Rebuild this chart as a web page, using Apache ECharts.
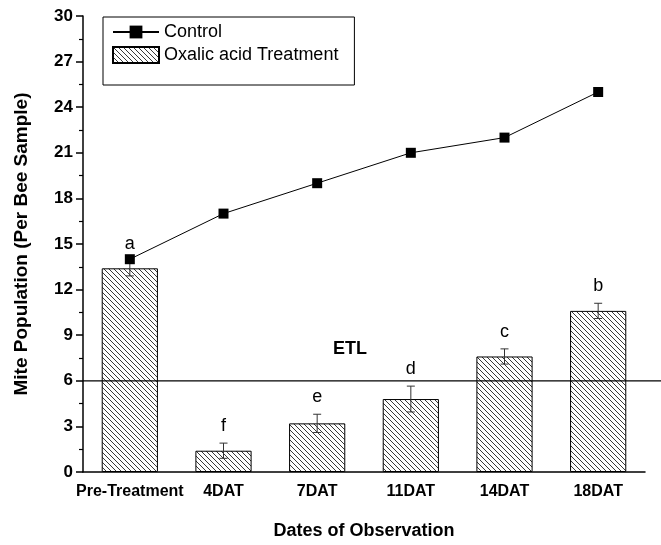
<!DOCTYPE html>
<html><head><meta charset="utf-8">
<script src="https://cdn.jsdelivr.net/npm/echarts@6/dist/echarts.min.js"></script>
<style>html,body{margin:0;padding:0;background:#fff}#c{width:661px;height:545px}</style>
</head><body><div id="c"></div>
<script>
const categories = ['Pre-Treatment','4DAT','7DAT','11DAT','14DAT','18DAT'];
const controlValues = [14, 17, 19, 21, 22, 25];
const treatmentValues = [13.4, 1.4, 3.2, 4.8, 7.6, 10.6];
const treatmentErrors = [0.5, 0.5, 0.6, 0.85, 0.5, 0.5];
const letters = ['a','f','e','d','c','b'];
const etlValue = [6];
const etlLabel = ['ETL'];
const etlLabelPos = [2.35, 8.1];

function hatch(){
  const s = 5, c = document.createElement('canvas');
  c.width = s; c.height = s;
  const g = c.getContext('2d');
  g.fillStyle = '#fff'; g.fillRect(0,0,s,s);
  g.strokeStyle = '#222'; g.lineWidth = 0.9;
  g.beginPath();
  g.moveTo(-1,-1); g.lineTo(s+1,s+1);
  g.moveTo(s-1,-1); g.lineTo(s+1,1);
  g.moveTo(-1,s-1); g.lineTo(1,s+1);
  g.stroke();
  return c;
}
const pat = {image: hatch(), repeat: 'repeat'};
const FONT = 'Liberation Sans, Arial, sans-serif';

const chart = echarts.init(document.getElementById('c'));
chart.setOption({
  animation: false,
  backgroundColor: '#fff',
  grid: {left: 83, right: 16, top: 16, bottom: 71},
  legend: {
    left: 103, top: 17, orient: 'vertical',
    borderColor: '#000', borderWidth: 1,
    padding: [6, 16, 21, 9], itemGap: 5,
    itemWidth: 46, itemHeight: 16,
    textStyle: {fontFamily: FONT, fontSize: 18, color: '#000', lineHeight: 16},
    data: [{name:'Control'}, {name:'Oxalic acid Treatment', icon: 'rect'}]
  },
  xAxis: [{
    type: 'category', data: categories,
    axisLine: {lineStyle: {color: '#000', width: 1.5}},
    axisTick: {alignWithLabel: true, length: 8, lineStyle: {color:'#000', width: 1.5}},
    axisLabel: {interval: 0, color: '#000', fontFamily: FONT, fontWeight: 'bold', fontSize: 16, margin: 12},
    name: 'Dates of Observation', nameLocation: 'middle', nameGap: 50,
    nameTextStyle: {color: '#000', fontFamily: FONT, fontWeight: 'bold', fontSize: 18}
  },{
    type: 'category', data: categories, position: 'bottom',
    axisLine: {show: false},
    axisTick: {alignWithLabel: false, interval: 0, length: 5, lineStyle: {color:'#000', width: 1.2}},
    axisLabel: {show: false}
  }],
  yAxis: {
    type: 'value', min: 0, max: 30, interval: 3,
    axisLine: {show: true, lineStyle: {color: '#000', width: 1.5}},
    axisTick: {show: true, length: 7, lineStyle: {color:'#000', width: 1.5}},
    minorTick: {show: true, splitNumber: 2, length: 4, lineStyle: {color:'#000', width: 1.2}},
    splitLine: {show: false},
    axisLabel: {color: '#000', fontFamily: FONT, fontWeight: 'bold', fontSize: 17, margin: 10},
    name: 'Mite Population (Per Bee Sample)', nameLocation: 'middle', nameGap: 52,
    nameTextStyle: {color: '#000', fontFamily: FONT, fontWeight: 'bold', fontSize: 19}
  },
  series: [
    {
      name: 'Oxalic acid Treatment', type: 'bar', data: treatmentValues,
      barWidth: '60%',
      itemStyle: {color: pat, borderColor: '#000', borderWidth: 1}
    },
    {
      name: 'errs', type: 'custom', z: 5,
      data: treatmentValues.map((v,i)=>[i, v, treatmentErrors[i]]),
      renderItem: function(params, api){
        const i = api.value(0), v = api.value(1), e = api.value(2);
        const top = api.coord([i, v + e]), bot = api.coord([i, v - e]);
        const w = 4;
        const st = {stroke: '#333', lineWidth: 1};
        return {type: 'group', children: [
          {type:'line', shape:{x1: top[0], y1: top[1], x2: bot[0], y2: bot[1]}, style: st},
          {type:'line', shape:{x1: top[0]-w, y1: top[1], x2: top[0]+w, y2: top[1]}, style: st},
          {type:'line', shape:{x1: bot[0]-w, y1: bot[1], x2: bot[0]+w, y2: bot[1]}, style: st},
          {type:'text', style:{text: letters[i], x: top[0], y: top[1] - 8, align:'center', verticalAlign:'bottom',
            fill:'#000', font: '18px ' + FONT}}
        ]};
      }
    },
    {
      name: 'Control', type: 'line', data: controlValues, z: 6,
      symbol: 'rect', symbolSize: 10,
      lineStyle: {color: '#000', width: 1},
      itemStyle: {color: '#000'}
    },
    {
      name: 'etl', type: 'custom', z: 4, clip: false,
      data: [[0, etlValue[0]]],
      renderItem: function(params, api){
        const cs = params.coordSys;
        const y = api.coord([0, etlValue[0]])[1];
        const k = Math.floor(etlLabelPos[0]);
        const a = api.coord([k, etlLabelPos[1]]);
        const b = api.coord([k + 1, etlLabelPos[1]]);
        const tx = a[0] + (b[0]-a[0]) * (etlLabelPos[0] - k);
        return {type:'group', children:[
          {type:'line', shape:{x1: cs.x, y1: y, x2: cs.x + cs.width + 16, y2: y}, style:{stroke:'#000', lineWidth: 1.3}},
          {type:'text', style:{text: etlLabel[0], x: tx, y: a[1], align:'center', verticalAlign:'middle',
            fill:'#000', font: 'bold 18px ' + FONT}}
        ]};
      }
    }
  ]
});
</script></body></html>
